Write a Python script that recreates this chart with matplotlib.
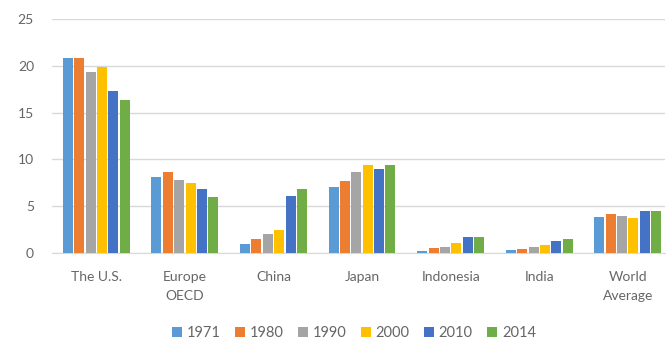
import matplotlib
matplotlib.use("Agg")
import matplotlib.pyplot as plt
import numpy as np

plt.rcParams['font.family'] = ['Lato', 'DejaVu Sans']

regions = ["The U.S.", "Europe\nOECD", "China", "Japan", "Indonesia", "India", "World\nAverage"]
years = ["1971", "1980", "1990", "2000", "2010", "2014"]

v1971 = [20.8, 8.15, 0.95, 7.0, 0.25, 0.32, 3.8]
v1980 = [20.85, 8.65, 1.5, 7.7, 0.5, 0.43, 4.15]
v1990 = [19.3, 7.85, 2.0, 8.65, 0.68, 0.6, 3.95]
v2000 = [19.9, 7.45, 2.45, 9.35, 1.1, 0.85, 3.77]
v2010 = [17.3, 6.8, 6.1, 8.95, 1.68, 1.3, 4.48]
v2014 = [16.3, 5.95, 6.8, 9.35, 1.68, 1.52, 4.52]
series = [v1971, v1980, v1990, v2000, v2010, v2014]

colors = ["#5B9BD5", "#ED7D31", "#A5A5A5", "#FFC000", "#4472C4", "#70AD47"]
text_color = "#666666"

fig = plt.figure(figsize=(6.67, 3.42), dpi=100)
ax = fig.add_axes([52 / 667, 1 - 253 / 342, (665 - 52) / 667, 234 / 342])

x = np.arange(len(regions))
n = len(series)
group_w = 0.77
bw = group_w / n
for i, (vals, c, yr) in enumerate(zip(series, colors, years)):
    offs = (i - (n - 1) / 2) * bw
    ax.bar(x + offs, vals, width=bw * 0.88, color=c, label=yr, zorder=3)

ax.set_ylim(0, 25)
ax.set_xlim(-0.5, 6.42)
ax.set_yticks([0, 5, 10, 15, 20, 25])
ax.set_xticks(x)
ax.set_xticklabels(regions, fontsize=10, color=text_color, linespacing=1.65)
ax.tick_params(axis='y', labelsize=10, labelcolor=text_color, length=0, pad=13)
ax.tick_params(axis='x', length=0, pad=13)
ax.grid(axis='y', color="#D9D9D9", linewidth=1, zorder=0)
for s in ["top", "right", "left"]:
    ax.spines[s].set_visible(False)
ax.spines["bottom"].set_color("#D9D9D9")

leg = fig.legend(loc="center", bbox_to_anchor=(354 / 667, 1 - 333 / 342), ncol=6,
                 frameon=False, fontsize=10.5, handlelength=0.65, handleheight=0.65,
                 handletextpad=0.35, columnspacing=1.0, borderpad=0)
for t in leg.get_texts():
    t.set_color(text_color)

fig.savefig("out.png", dpi=100)
